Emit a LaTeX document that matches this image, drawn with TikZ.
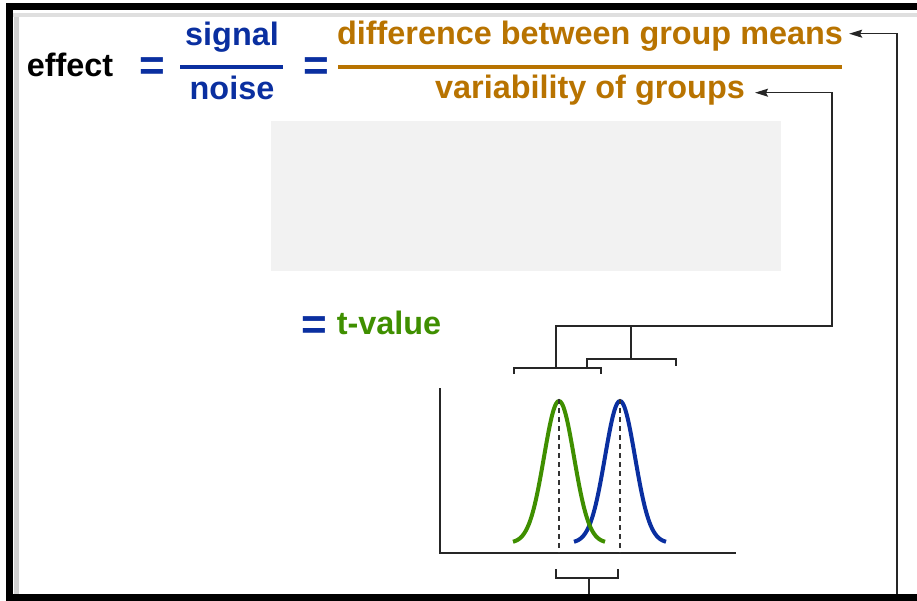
\documentclass[tikz,border=0pt]{standalone}
\usepackage{fontspec}
\setmainfont{Liberation Sans}
\usetikzlibrary{arrows.meta, positioning}
\definecolor{sigblue}{HTML}{0A2FA0}
\definecolor{meanbrown}{HTML}{B87300}
\definecolor{tgreen}{HTML}{3F8F00}
\definecolor{boxgray}{HTML}{F2F2F2}

\begin{document}
\begin{tikzpicture}[x=1pt, y=-1pt, >={Stealth[length=13pt,width=8pt,inset=2pt]},
  word/.style={font=\fontsize{32.4}{38}\selectfont\bfseries, inner sep=0pt, anchor=base},
  equals/.style={font=\fontsize{44}{48}\selectfont\bfseries, inner sep=0pt, anchor=base, sigblue},
  wire/.style={line width=1.2pt, black!85},
  bell/.style={line width=4pt, smooth, samples=61, domain=-46:46},
  meanline/.style={line width=1.1pt, black!80, dash pattern=on 5pt off 4pt}]
  \useasboundingbox (0,0) rectangle (917,601);

  % equation
  \node[word] (effect) at (70,77) {effect};
  \node[equals] (eqa) at (152,81) {=};
  \node[word, sigblue] (signal) at (232,46) {signal};
  \node[word, sigblue] (noise) at (232,100) {noise};
  \draw[sigblue, line width=4.5pt] (180,67) -- (283,67);
  \node[equals] (eqb) at (316,81) {=};
  \node[word, meanbrown] (diff) at (590,45) {difference between group means};
  \node[word, meanbrown] (var) at (590,99) {variability of groups};
  \draw[meanbrown, line width=4.5pt] (338,67) -- (842,67);

  % blank panel and t-value
  \fill[boxgray] (271,121) rectangle (781,271);
  \node[equals] (eqc) at (314,339) {=};
  \node[word, tgreen] (tval) at (389,334) {t-value};

  % axes and distributions
  \coordinate (origin) at (440,553);
  \draw[wire] (440,388) -- (origin) -- (736,553);
  \draw[bell, sigblue] plot ({620+\x}, {543-142*exp(-(\x/15)*(\x/15)/2)});
  \draw[bell, tgreen] plot ({559+\x}, {543-142*exp(-(\x/15)*(\x/15)/2)});
  \draw[meanline] (559,399) -- (559,553);
  \draw[meanline] (620,399) -- (620,553);

  % brackets over the spreads
  \coordinate (greenL) at (514,368);
  \coordinate (greenR) at (601,368);
  \coordinate (blueL) at (587,359);
  \coordinate (blueR) at (676,359);
  \coordinate (greenM) at (556,368);
  \coordinate (blueM) at (631,359);
  \coordinate (spreadtop) at (832,326);
  \draw[wire] ([yshift=-6pt]greenL) -- (greenL) -- (greenR) -- ++(0,6);
  \draw[wire] (blueL |- greenL) -- (blueL) -- (blueR) -- ++(0,7);
  \draw[wire] (blueM) -- (blueM |- spreadtop);
  \draw[wire, ->] (greenM) |- (spreadtop) |- ([xshift=10pt,yshift=-2pt]var.east);

  % bracket under the means
  \coordinate (meanL) at (556,578);
  \coordinate (meanR) at (618,578);
  \coordinate (meanM) at (589,578);
  \coordinate (frameR) at (897,598);
  \draw[wire] ([yshift=9pt]meanL) -- (meanL) -- (meanR) -- ++(0,-9);
  \draw[wire, ->] (meanM) |- (frameR) |- ([xshift=6pt,yshift=3pt]diff.east);

  % frame
  \draw[gray!35, line width=5pt] (16,13) -- (16,595);
  \draw[gray!25, line width=4pt] (13,15) -- (917,15);
  \draw[black, line width=7.5pt] (917,6.5) -- (9.5,6.5) -- (9.5,598) -- (917,598);
\end{tikzpicture}
\end{document}
